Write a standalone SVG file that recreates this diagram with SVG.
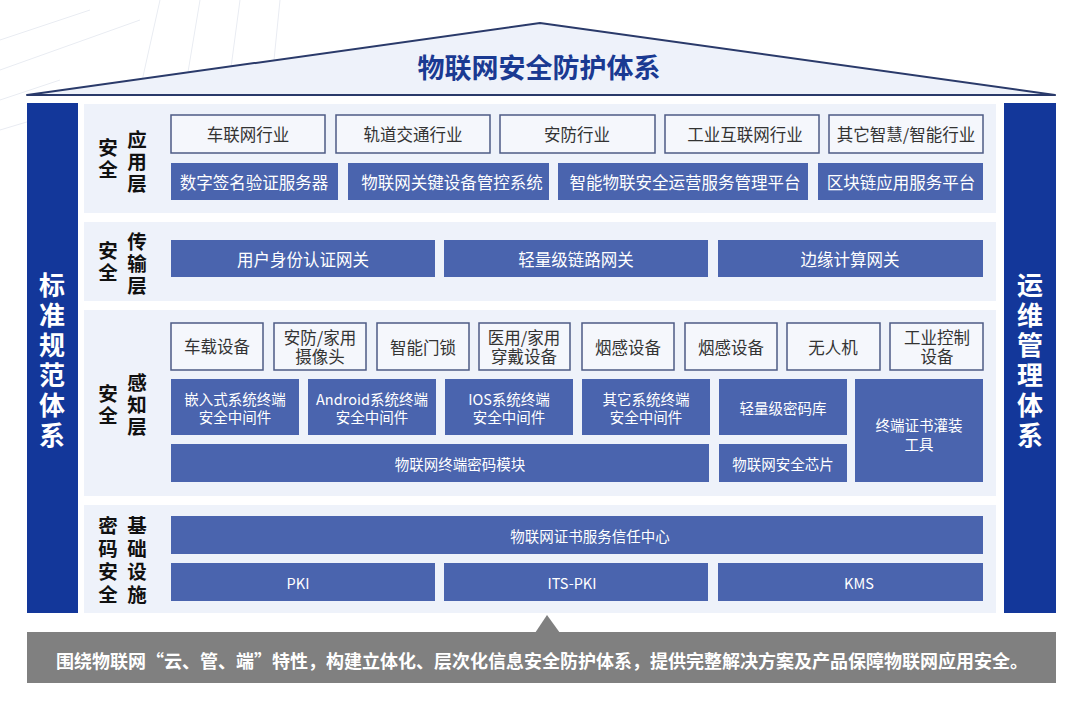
<svg xmlns="http://www.w3.org/2000/svg" width="1080" height="706" viewBox="0 0 1080 706">
<style>
text{font-family:"Noto Sans CJK SC","Noto Sans",sans-serif;text-anchor:middle;dominant-baseline:central}
.panel{fill:#eef2fa}
.ob{fill:#f5f7fc;stroke:#4d5b85;stroke-width:1.5}
.fb{fill:#4a64ae}
.ot{fill:#333;font-size:16.5px}
.ft{fill:#fff;font-size:16.5px}
.st{fill:#fff;font-size:14.5px}
.lab{fill:#111;font-size:19.5px;font-weight:bold}
.side{fill:#fff;font-size:26px;font-weight:bold}
.bar{fill:#13379a}
</style>
<rect width="1080" height="706" fill="#fff"/>
<g id="bg-lines" stroke="#e9ecf2" stroke-width="1" fill="none">
<path d="M0 40 L90 10 M0 70 L140 20 M0 100 L60 80 M0 130 L40 118 M160 0 L140 90 M200 0 L185 90 M240 0 L228 90 M280 0 L272 80"/>
</g>
<g id="roof">
<polygon points="27,95 540,23 1055,95" fill="#eef2fa" stroke="#2a3a6a" stroke-width="2" stroke-linejoin="round"/>
<line x1="27" y1="95" x2="1055" y2="95" stroke="#2a3a6a" stroke-width="2"/>
<text x="539" y="66" fill="#1a3a92" font-size="27" font-weight="bold">物联网安全防护体系</text>
</g>
<g id="left-bar">
<rect class="bar" x="27" y="103" width="51" height="510"/>
<text class="side"><tspan x="52" y="283">标</tspan><tspan x="52" y="313">准</tspan><tspan x="52" y="343">规</tspan><tspan x="52" y="373">范</tspan><tspan x="52" y="403">体</tspan><tspan x="52" y="433">系</tspan></text>
</g>
<g id="right-bar">
<rect class="bar" x="1004" y="103" width="52" height="510"/>
<text class="side"><tspan x="1030" y="283">运</tspan><tspan x="1030" y="313">维</tspan><tspan x="1030" y="343">管</tspan><tspan x="1030" y="373">理</tspan><tspan x="1030" y="403">体</tspan><tspan x="1030" y="433">系</tspan></text>
</g>
<g id="layer-app">
<rect class="panel" x="84" y="104" width="912" height="109"/>
<text class="lab"><tspan x="108" y="146">安</tspan><tspan x="108" y="168">全</tspan></text>
<text class="lab"><tspan x="137" y="138">应</tspan><tspan x="137" y="160">用</tspan><tspan x="137" y="182">层</tspan></text>
<rect class="ob" x="171" y="115" width="154" height="38"/><text class="ot" x="248" y="134">车联网行业</text>
<rect class="ob" x="336" y="115" width="154" height="38"/><text class="ot" x="413" y="134">轨道交通行业</text>
<rect class="ob" x="500" y="115" width="155" height="38"/><text class="ot" x="577" y="134">安防行业</text>
<rect class="ob" x="665" y="115" width="154" height="38"/><text class="ot" x="745" y="134">工业互联网行业</text>
<rect class="ob" x="829" y="115" width="154" height="38"/><text class="ot" x="906" y="134">其它智慧/智能行业</text>
<rect class="fb" x="171" y="163" width="167" height="37"/><text class="ft" x="254" y="182">数字签名验证服务器</text>
<rect class="fb" x="348" y="163" width="201" height="37"/><text class="ft" x="452" y="182">物联网关键设备管控系统</text>
<rect class="fb" x="558" y="163" width="250" height="37"/><text class="ft" x="685" y="182">智能物联安全运营服务管理平台</text>
<rect class="fb" x="818" y="163" width="165" height="37"/><text class="ft" x="901" y="182">区块链应用服务平台</text>
</g>
<g id="layer-trans">
<rect class="panel" x="84" y="222" width="912" height="79"/>
<text class="lab"><tspan x="108" y="249">安</tspan><tspan x="108" y="271">全</tspan></text>
<text class="lab"><tspan x="137" y="240">传</tspan><tspan x="137" y="262">输</tspan><tspan x="137" y="284">层</tspan></text>
<rect class="fb" x="171" y="240" width="264" height="37"/><text class="ft" x="303" y="259">用户身份认证网关</text>
<rect class="fb" x="444" y="240" width="264" height="37"/><text class="ft" x="576" y="259">轻量级链路网关</text>
<rect class="fb" x="718" y="240" width="265" height="37"/><text class="ft" x="850" y="259">边缘计算网关</text>
</g>
<g id="layer-sense">
<rect class="panel" x="84" y="310" width="912" height="186"/>
<text class="lab"><tspan x="108" y="392">安</tspan><tspan x="108" y="414">全</tspan></text>
<text class="lab"><tspan x="137" y="381">感</tspan><tspan x="137" y="403">知</tspan><tspan x="137" y="425">层</tspan></text>
<rect class="ob" x="171" y="323" width="92" height="47"/><text class="ot" x="217" y="346" font-size="15">车载设备</text>
<rect class="ob" x="274" y="323" width="92" height="47"/><text class="ot" font-size="15"><tspan x="320" y="337">安防/家用</tspan><tspan x="320" y="356">摄像头</tspan></text>
<rect class="ob" x="377" y="323" width="92" height="47"/><text class="ot" x="423" y="347" font-size="15">智能门锁</text>
<rect class="ob" x="479" y="323" width="91" height="47"/><text class="ot" font-size="15"><tspan x="524" y="337">医用/家用</tspan><tspan x="524" y="356">穿戴设备</tspan></text>
<rect class="ob" x="582" y="323" width="92" height="47"/><text class="ot" x="628" y="347" font-size="15">烟感设备</text>
<rect class="ob" x="685" y="323" width="92" height="47"/><text class="ot" x="731" y="347" font-size="15">烟感设备</text>
<rect class="ob" x="787" y="323" width="93" height="47"/><text class="ot" x="833" y="347" font-size="15">无人机</text>
<rect class="ob" x="890" y="323" width="93" height="47"/><text class="ot" font-size="15"><tspan x="937" y="337">工业控制</tspan><tspan x="937" y="356">设备</tspan></text>
<rect class="fb" x="171" y="379" width="128" height="56"/><text class="st"><tspan x="235" y="398">嵌入式系统终端</tspan><tspan x="235" y="416">安全中间件</tspan></text>
<rect class="fb" x="308" y="379" width="128" height="56"/><text class="st"><tspan x="372" y="398">Android系统终端</tspan><tspan x="372" y="416">安全中间件</tspan></text>
<rect class="fb" x="445" y="379" width="128" height="56"/><text class="st"><tspan x="509" y="398">IOS系统终端</tspan><tspan x="509" y="416">安全中间件</tspan></text>
<rect class="fb" x="582" y="379" width="128" height="56"/><text class="st"><tspan x="646" y="398">其它系统终端</tspan><tspan x="646" y="416">安全中间件</tspan></text>
<rect class="fb" x="719" y="379" width="128" height="56"/><text class="st" x="783" y="407">轻量级密码库</text>
<rect class="fb" x="855" y="379" width="128" height="103"/><text class="st"><tspan x="919" y="424">终端证书灌装</tspan><tspan x="919" y="443">工具</tspan></text>
<rect class="fb" x="171" y="444" width="538" height="38"/><text class="st" x="460" y="463">物联网终端密码模块</text>
<rect class="fb" x="719" y="444" width="128" height="38"/><text class="st" x="783" y="463">物联网安全芯片</text>
</g>
<g id="layer-base">
<rect class="panel" x="84" y="505" width="912" height="108"/>
<text class="lab"><tspan x="108" y="524">密</tspan><tspan x="108" y="547">码</tspan><tspan x="108" y="570">安</tspan><tspan x="108" y="593">全</tspan></text>
<text class="lab"><tspan x="137" y="524">基</tspan><tspan x="137" y="547">础</tspan><tspan x="137" y="570">设</tspan><tspan x="137" y="593">施</tspan></text>
<rect class="fb" x="171" y="516" width="812" height="38"/><text class="st" x="590" y="535">物联网证书服务信任中心</text>
<rect class="fb" x="171" y="563" width="264" height="38"/><text class="st" x="298" y="582">PKI</text>
<rect class="fb" x="444" y="563" width="264" height="38"/><text class="st" x="572" y="582">ITS-PKI</text>
<rect class="fb" x="718" y="563" width="265" height="38"/><text class="st" x="859" y="582">KMS</text>
</g>
<g id="banner">
<polygon points="535,633 547,615 560,633" fill="#808080"/>
<rect x="27" y="632" width="1029" height="51" fill="#808080"/>
<text x="542" y="660" fill="#fff" font-size="18" font-weight="bold">围绕物联网“云、管、端”特性，构建立体化、层次化信息安全防护体系，提供完整解决方案及产品保障物联网应用安全。</text>
</g>
</svg>
